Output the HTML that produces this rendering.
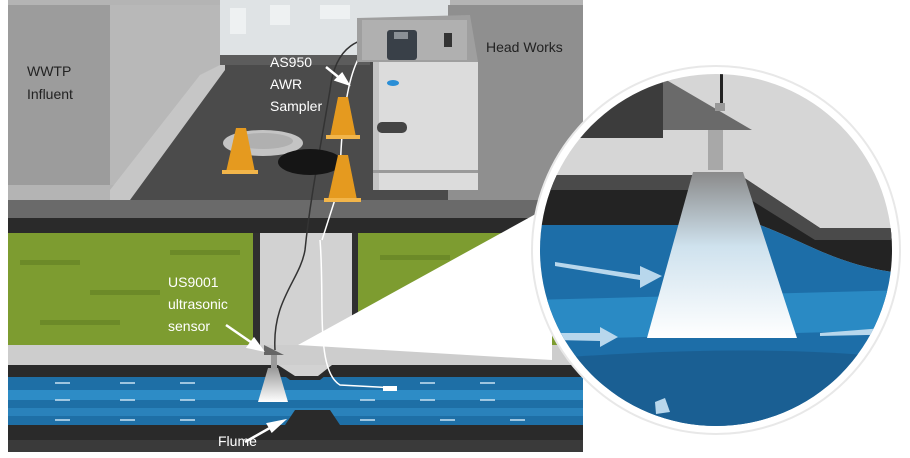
<!DOCTYPE html>
<html><head><meta charset="utf-8"><style>
html,body{margin:0;padding:0;background:#fff}
svg{display:block}
text{font-family:"Liberation Sans",sans-serif}
</style></head><body>
<svg width="910" height="458" viewBox="0 0 910 458" xmlns="http://www.w3.org/2000/svg">
<defs>
<linearGradient id="beam" x1="0" y1="0" x2="0" y2="1"><stop offset="0" stop-color="#8a8a8a"/><stop offset="0.45" stop-color="#cfe2ee"/><stop offset="1" stop-color="#ffffff"/></linearGradient>
<linearGradient id="beam2" x1="0" y1="0" x2="0" y2="1"><stop offset="0" stop-color="#9a9a9a"/><stop offset="1" stop-color="#ffffff"/></linearGradient>
<clipPath id="cc"><circle cx="716" cy="250" r="176"/></clipPath>
</defs>
<rect width="910" height="458" fill="#fff"/>
<rect x="8" y="0" width="575" height="452" fill="#b4b4b4"/>
<rect x="220" y="0" width="230" height="56" fill="#dfe3e5"/>
<rect x="230" y="8" width="16" height="26" fill="#eef1f2"/><rect x="270" y="5" width="20" height="20" fill="#eef1f2"/><rect x="320" y="5" width="30" height="14" fill="#eef1f2"/>
<rect x="8" y="5" width="102" height="180" fill="#9c9c9c"/>
<rect x="110" y="5" width="110" height="180" fill="#b8b8b8"/>
<polygon points="220,55 450,55 450,200 110,200 110,190 200,75 220,65" fill="#c6c6c6"/>
<polygon points="225,55 450,55 450,200 130,200 225,70" fill="#4b4b4b"/>
<rect x="220" y="55" width="150" height="10" fill="#5c5c5c"/>
<rect x="448" y="5" width="135" height="195" fill="#8f8f8f"/>
<rect x="8" y="200" width="575" height="18" fill="#6a6a6a"/>
<rect x="8" y="218" width="575" height="15" fill="#2a2a2a"/>
<rect x="8" y="233" width="245" height="112" fill="#7d9c30"/>
<rect x="358" y="233" width="225" height="112" fill="#7d9c30"/>
<g fill="#6c8a28"><rect x="20" y="260" width="60" height="5"/><rect x="90" y="290" width="70" height="5"/><rect x="40" y="320" width="80" height="5"/><rect x="170" y="250" width="70" height="5"/><rect x="380" y="255" width="70" height="5"/><rect x="420" y="290" width="60" height="5"/><rect x="470" y="270" width="60" height="5"/></g>
<rect x="253" y="233" width="105" height="125" fill="#2f2f2f"/>
<rect x="260" y="233" width="92" height="125" fill="#d2d2d2"/>
<rect x="8" y="345" width="575" height="20" fill="#cdcdcd"/>
<rect x="8" y="365" width="575" height="12" fill="#2a2a2a"/>
<rect x="8" y="377" width="575" height="48" fill="#1e6fa6"/>
<rect x="8" y="390" width="575" height="10" fill="#2d8cc6"/>
<rect x="8" y="408" width="575" height="8" fill="#2a82bb"/>
<path d="M270,365 L290,380 L320,380 L338,365 Z" fill="#2a2a2a"/>
<path d="M278,365 L295,376 L318,376 L332,365 Z" fill="#d2d2d2"/>
<path d="M8,425 L285,425 L295,410 L330,410 L340,425 L583,425 L583,452 L8,452 Z" fill="#2a2a2a"/>
<rect x="8" y="440" width="575" height="12" fill="#3a3a3a"/>
<g stroke="#c8e2f2" stroke-width="1.5"><line x1="55" y1="383" x2="70" y2="383"/><line x1="120" y1="383" x2="135" y2="383"/><line x1="180" y1="383" x2="195" y2="383"/><line x1="55" y1="400" x2="70" y2="400"/><line x1="120" y1="400" x2="135" y2="400"/><line x1="180" y1="400" x2="195" y2="400"/><line x1="55" y1="420" x2="70" y2="420"/><line x1="120" y1="420" x2="135" y2="420"/><line x1="180" y1="420" x2="195" y2="420"/><line x1="360" y1="400" x2="375" y2="400"/><line x1="420" y1="400" x2="435" y2="400"/><line x1="480" y1="400" x2="495" y2="400"/><line x1="420" y1="383" x2="435" y2="383"/><line x1="480" y1="383" x2="495" y2="383"/><line x1="360" y1="420" x2="375" y2="420"/><line x1="440" y1="420" x2="455" y2="420"/><line x1="510" y1="420" x2="525" y2="420"/></g>
<polygon points="268,368 278,368 288,402 258,402" fill="url(#beam2)"/>
<rect x="271" y="352" width="6" height="16" fill="#999"/>
<polygon points="264,345 284,355 264,355" fill="#666"/>
<polygon points="298,345 552,205 552,360" fill="#fff"/>
<path d="M275,350 C272,300 300,280 305,250 C310,200 320,150 330,90 C335,45 360,35 390,38" fill="none" stroke="#333" stroke-width="1.5"/>
<path d="M320,240 C325,300 315,370 340,385 L395,388 M340,190 C340,140 345,60 370,45 L395,44" fill="none" stroke="#fff" stroke-width="1.5"/>
<path d="M322,240 L338,190" stroke="#fff" stroke-width="1.5"/>
<rect x="383" y="386" width="14" height="5" fill="#fff"/>
<ellipse cx="263" cy="143" rx="40" ry="13" fill="#c4c4c4"/><ellipse cx="263" cy="141" rx="30" ry="8" fill="#b0b0b0"/>
<ellipse cx="310" cy="162" rx="32" ry="13" fill="#151515"/>
<g fill="#e59a1f"><polygon points="236,128 246,128 255,172 226,172"/><polygon points="338,97 348,97 356,137 330,137"/><polygon points="338,155 348,155 357,200 328,200"/></g>
<g fill="#f2b54a"><rect x="222" y="170" width="36" height="4"/><rect x="326" y="135" width="34" height="4"/><rect x="324" y="198" width="37" height="4"/></g>
<polygon points="357,18 470,15 478,62 357,62" fill="#9f9f9f"/>
<rect x="362" y="20" width="105" height="40" fill="#b0b0b0"/>
<rect x="373" y="62" width="105" height="128" fill="#dcdcdc"/>
<rect x="373" y="62" width="6" height="128" fill="#c4c4c4"/>
<rect x="373" y="170" width="105" height="3" fill="#9a9a9a"/>
<rect x="377" y="122" width="30" height="11" rx="5" fill="#444"/>
<ellipse cx="393" cy="83" rx="6" ry="3" fill="#2a8ed6"/>
<rect x="387" y="30" width="30" height="30" rx="3" fill="#394048"/>
<rect x="394" y="32" width="14" height="7" fill="#8a9096"/>
<rect x="444" y="33" width="8" height="14" fill="#333"/>
<g stroke="#fff" stroke-width="2.5" fill="#fff">
<line x1="326" y1="67" x2="342" y2="80"/><polygon points="348,84 336,80 342,74"/>
<line x1="226" y1="325" x2="255" y2="345"/><polygon points="262,350 248,347 254,339"/>
<line x1="245" y1="442" x2="275" y2="425"/><polygon points="283,421 272,431 268,424"/>
</g>
<g font-size="14" fill="#222"><text x="27" y="76">WWTP</text><text x="27" y="99">Influent</text><text x="486" y="52">Head Works</text></g>
<g font-size="14" fill="#fff"><text x="270" y="67">AS950</text><text x="270" y="89">AWR</text><text x="270" y="111">Sampler</text><text x="168" y="287">US9001</text><text x="168" y="309">ultrasonic</text><text x="168" y="331">sensor</text><text x="218" y="446">Flume</text></g>
<circle cx="716" cy="250" r="184" fill="#fff"/>
<circle cx="716" cy="250" r="184" fill="none" stroke="#e8e8e8" stroke-width="2"/>
<g clip-path="url(#cc)">
<rect x="530" y="60" width="380" height="400" fill="#d6d6d6"/>
<rect x="530" y="80" width="133" height="58" fill="#3c3c3c"/>
<polygon points="600,100 620,100 610,108" fill="#8ab030"/>
<polygon points="663,78 752,130 663,130" fill="#6a6a6a"/>
<rect x="720" y="72" width="3" height="35" fill="#222"/>
<rect x="715" y="103" width="10" height="8" fill="#999"/>
<rect x="708" y="130" width="15" height="40" fill="#a8a8a8"/>
<path d="M530,175 L740,175 L820,228 L910,228 L910,275 L880,270 C830,260 800,240 760,225 L530,225 Z" fill="#232323"/>
<path d="M530,175 L740,175 L820,228 L910,228 L910,240 L815,240 L735,190 L530,190 Z" fill="#4a4a4a"/>
<path d="M530,225 L760,225 C800,240 830,260 880,270 L910,275 L910,460 L530,460 Z" fill="#1d6ea8"/>
<path d="M530,300 L910,290 L910,330 L530,340 Z" fill="#2a8ac4"/>
<path d="M530,360 C650,350 800,345 910,360 L910,460 L530,460 Z" fill="#1a5f93"/>
<polygon points="693,172 743,172 797,338 647,338" fill="url(#beam)"/>
<g fill="#b8d7ec"><polygon points="555,262 640,275 640,266 662,276 640,288 640,280 555,266"/><polygon points="555,333 600,333 600,327 618,337 600,347 600,341 555,340"/><polygon points="820,333 910,326 910,334 820,336"/><polygon points="655,402 665,398 670,412 656,414"/></g>
</g>
</svg>
</body></html>
